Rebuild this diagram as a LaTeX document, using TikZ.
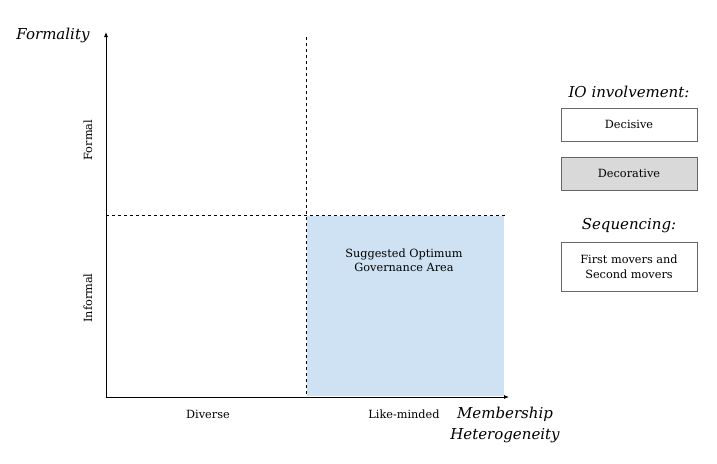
\documentclass[tikz,border=0pt]{standalone}
\usepackage{fontspec}
\setmainfont{DejaVu Serif}
\usetikzlibrary{arrows.meta}
\definecolor{optblue}{HTML}{CFE2F3}
\definecolor{decgray}{HTML}{D9D9D9}
\tikzset{
  lbl/.style={font=\fontsize{11.3}{14}\selectfont, align=center, inner sep=0pt},
  ttl/.style={font=\fontsize{15}{21}\selectfont\itshape, align=center, inner sep=0pt},
  legbox/.style={draw=gray!80!black, minimum width=136pt, align=center, font=\fontsize{11.3}{15}\selectfont}
}
\begin{document}
\begin{tikzpicture}[x=1pt,y=-1pt]
    \useasboundingbox (0,0) rectangle (717,463);
    % axes
    \coordinate (O) at (106,397);
    \coordinate (Y) at (106,32);
    \coordinate (X) at (509,397);
    \coordinate (Vt) at (306,37);
    \coordinate (Vb) at (306,397);
    \coordinate (Hl) at (106,215);
    \coordinate (Hr) at (505,215);

    % Optimum area
    \fill[optblue] (307,216) rectangle (504,396);

    % Dashed splits
    \draw[dashed, thin] (Vt) -- (Vb);
    \draw[dashed, thin] (Hl) -- (Hr);

    \draw[line width=0.8pt, -{Latex[length=5pt,width=4pt]}] (O) -- (Y);
    \draw[line width=0.8pt, -{Latex[length=5pt,width=4pt]}] (O) -- (X);

    % Labels
    \node[ttl] (formality) at (53,35) {Formality};
    \node[lbl, rotate=90] (formal) at (88,140) {Formal};
    \node[lbl, rotate=90] (informal) at (88,298) {Informal};
    \node[lbl] (diverse) at (208,414) {Diverse};
    \node[lbl] (like) at (404,414) {Like-minded};
    \node[ttl] (member) at (505,425) {Membership\\Heterogeneity};
    \node[lbl] (optimum) at (404,260) {Suggested Optimum\\Governance Area};

    % Legend
    \node[ttl] (io) at (629,92) {IO involvement:};
    \node[legbox, minimum height=33pt] (decisive) at (629,124.5) {Decisive};
    \node[legbox, minimum height=33pt, fill=decgray] (decorative) at (629,173.5) {Decorative};
    \node[ttl] (seq) at (629,226) {Sequencing:};
    \node[legbox, minimum height=49pt] (movers) at (629,266.5) {First movers and\\Second movers};
\end{tikzpicture}
\end{document}
